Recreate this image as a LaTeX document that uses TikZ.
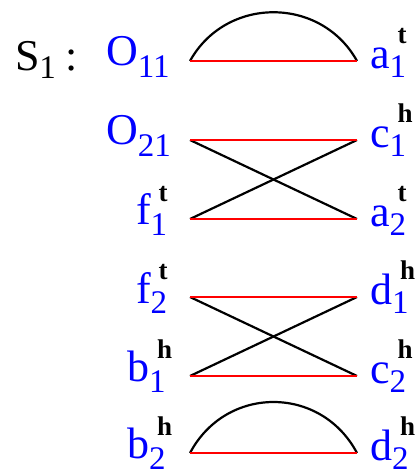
\documentclass[tikz,border=0pt]{standalone}
\usepackage{fontspec}
\setmainfont{Liberation Serif}
\newcommand\mainf{\fontsize{44}{46}\selectfont}
\newcommand\subf{\fontsize{33}{35}\selectfont}
\newcommand\supf{\fontsize{27}{29}\selectfont\bfseries}
% #1 drop of main letter below the line, #2 letter, #3 subscript, #4 superscript
\newcommand\lab[4]{\raisebox{-#1pt}{\mainf #2}\rlap{\raisebox{-16pt}{\subf #3}}\kern8pt\raisebox{18pt}{\supf\color{black}#4}}
\begin{document}
\begin{tikzpicture}[x=1pt,y=-1pt,
  lbl/.style={inner sep=0pt,outer sep=0pt,anchor=base west,text=blue},
  redline/.style={draw=red,line width=2pt},
  blkline/.style={draw=black,line width=2.2pt}]
\useasboundingbox (0,0) rectangle (418,474);
% line end points
\coordinate (L1) at (190,61);  \coordinate (R1) at (357,61);
\coordinate (L2) at (190,140); \coordinate (R2) at (357,140);
\coordinate (L3) at (190,219); \coordinate (R3) at (357,219);
\coordinate (L4) at (190,297); \coordinate (R4) at (357,297);
\coordinate (L5) at (190,376); \coordinate (R5) at (357,376);
\coordinate (L6) at (190,453); \coordinate (R6) at (357,453);
% labels
\node[lbl,text=black] (s1) at (15,61) {\raisebox{-9pt}{\mainf S}\raisebox{-17pt}{\subf 1}\kern10pt\raisebox{-9pt}{\mainf :}};
\node[lbl] (o11) at (106,61)  {\lab{4}{O}{11}{}};
\node[lbl] (o21) at (106,140) {\lab{4}{O}{21}{}};
\node[lbl] (f1)  at (136,219) {\lab{5}{f}{1}{t}};
\node[lbl] (f2)  at (136,297) {\lab{6}{f}{2}{t}};
\node[lbl] (b1)  at (127,376) {\lab{5}{b}{1}{h}};
\node[lbl] (b2)  at (127,453) {\lab{5}{b}{2}{h}};
\node[lbl] (a1)  at (370,61)  {\lab{7}{a}{1}{t}};
\node[lbl] (c1)  at (370,140) {\lab{7}{c}{1}{h}};
\node[lbl] (a2)  at (370,219) {\lab{7}{a}{2}{t}};
\node[lbl] (d1)  at (370,297) {\lab{7}{d}{1}{h}};
\node[lbl] (c2)  at (370,376) {\lab{7}{c}{2}{h}};
\node[lbl] (d2)  at (370,453) {\lab{7}{d}{2}{h}};
% connectors
\draw[blkline] (L1) .. controls +(36,-65) and +(-36,-65) .. (R1);
\draw[blkline] (L2) -- (R3);
\draw[blkline] (L3) -- (R2);
\draw[blkline] (L4) -- (R5);
\draw[blkline] (L5) -- (R4);
\draw[blkline] (L6) .. controls +(36,-68) and +(-36,-68) .. (R6);
\draw[redline] (L1) -- (R1);
\draw[redline] (L2) -- (R2);
\draw[redline] (L3) -- (R3);
\draw[redline] (L4) -- (R4);
\draw[redline] (L5) -- (R5);
\draw[redline] (L6) -- (R6);
\end{tikzpicture}
\end{document}
